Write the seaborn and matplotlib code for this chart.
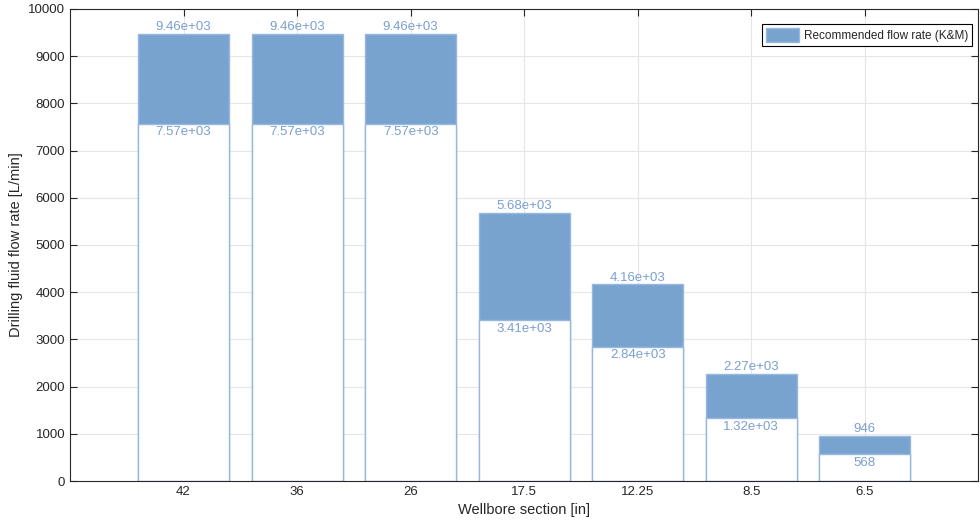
import pandas as pd
import matplotlib.pyplot as plt
import seaborn as sns

# Wellbore sections and flow rate ranges (L/min)
sections = ["42", "36", "26", "17.5", "12.25", "8.5", "6.5"]
flow_max = [9463, 9463, 9463, 5678, 4164, 2271, 946]
flow_min = [7571, 7571, 7571, 3407, 2839, 1325, 568]

df = pd.DataFrame({"section": sections, "max": flow_max, "min": flow_min})

sns.set_style("whitegrid")
plt.rcParams["font.family"] = ["Liberation Sans", "DejaVu Sans"]

fill = "#79a3cf"
edge = "#97b8de"
txt = "#7a9fd1"
dark = "#262626"

fig = plt.figure(figsize=(9.8, 5.28), dpi=100)
ax = fig.add_axes([0.0714, 0.089, 0.927, 0.894])

# upper part (blue) then lower part (white) on top of it
sns.barplot(data=df, x="section", y="max", color=fill, saturation=1, width=0.8,
            edgecolor=edge, linewidth=1, ax=ax, label="Recommended flow rate (K&M)")
sns.barplot(data=df, x="section", y="min", color="white", saturation=1, width=0.8,
            edgecolor=edge, linewidth=1, ax=ax)

for i, (hi, lo) in enumerate(zip(flow_max, flow_min)):
    ax.text(i, hi + 20, f"{hi:.3g}", ha="center", va="bottom", color=txt, fontsize=9.5)
    ax.text(i, lo - 50, f"{lo:.3g}", ha="center", va="top", color=txt, fontsize=9.5)

ax.set_xlim(-1, 7)
ax.set_ylim(0, 10000)
ax.set_yticks(range(0, 10001, 1000))
ax.set_xlabel("Wellbore section [in]", fontsize=10.5, color=dark)
ax.set_ylabel("Drilling fluid flow rate [L/min]", fontsize=10.5, color=dark)
ax.tick_params(axis="both", labelsize=9.5, colors=dark, direction="in", length=5,
               right=True, top=True, left=True, bottom=True)
ax.grid(True, color="#e6e6e6", linewidth=0.8)
ax.set_axisbelow(True)
for s in ax.spines.values():
    s.set_color(dark)
    s.set_linewidth(0.8)

leg = ax.legend(loc="upper right", bbox_to_anchor=(0.997, 0.975), fontsize=8.5,
                frameon=True, fancybox=False, edgecolor="black", framealpha=1,
                borderpad=0.35, handlelength=2.8, handleheight=1.4,
                handletextpad=0.4, borderaxespad=0.3)
leg.get_frame().set_linewidth(0.8)

plt.savefig("out.png", dpi=100)
